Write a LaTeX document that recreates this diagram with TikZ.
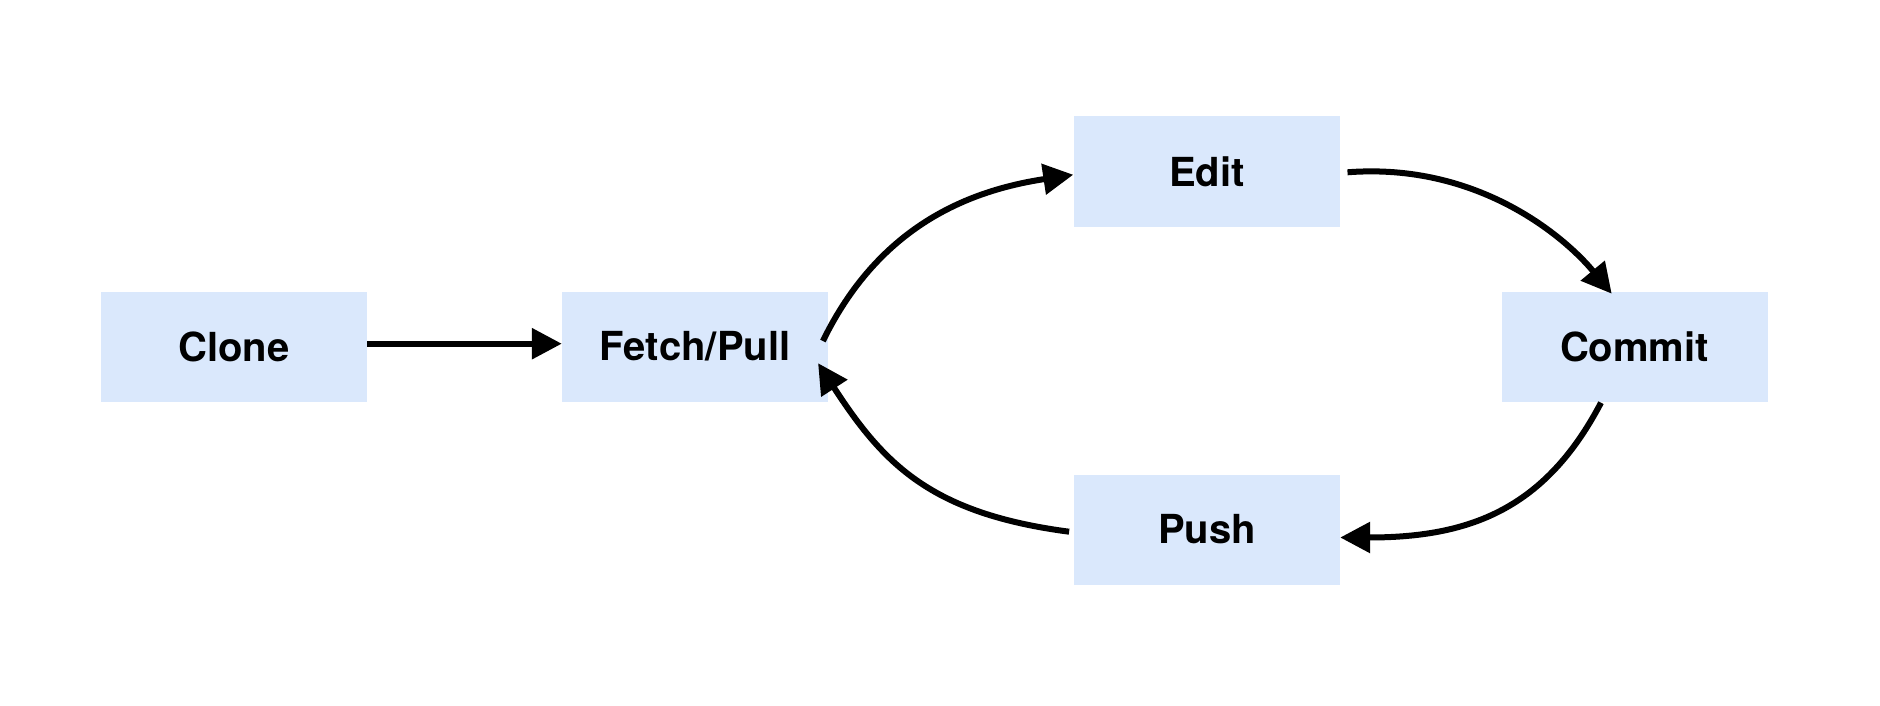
\documentclass[tikz,border=0pt]{standalone}
\usepackage{fontspec}
\setmainfont{TeX Gyre Heros}
\usetikzlibrary{arrows.meta,calc}
\definecolor{boxblue}{HTML}{DAE8FC}
\tikzset{
  stepbox/.style={fill=boxblue, draw=none, minimum width=266pt, minimum height=110pt,
    inner sep=0pt, font=\fontsize{40}{48}\selectfont\bfseries},
  arr/.style={line width=6pt, -{Triangle[length=30pt,width=30pt]}},
  % curve ends at the arrow base; the tip sticks out beyond it
  carr/.style={arr, shorten >=-30pt}
}
\begin{document}
\begin{tikzpicture}[x=1pt,y=-1pt]
\useasboundingbox (0,0) rectangle (1880,706);
\node[stepbox] (clone)  at (234,346.5)  {Clone};
\node[stepbox] (fetch)  at (695,346.5)  {Fetch/Pull};
\node[stepbox] (edit)   at (1207,171.5) {Edit};
\node[stepbox] (commit) at (1634.5,347) {Commit};
\node[stepbox] (push)   at (1207,529.5) {Push};

\draw[arr] ($(clone.east)+(0,-2.8)$) -- ($(fetch.west)+(0,-2.8)$);
\draw[carr] ($(fetch.east)+(-5.3,-5.5)$) .. controls (877.7,228.75) and (964.7,191.1) .. ($(edit.west)+(-30.2,7.7)$);
\draw[carr] ($(edit.east)+(7.3,0.8)$) .. controls (1476.9,162.3) and (1564.1,236) .. ($(commit.north)+(-41.85,-21.2)$);
\draw[carr] ($(commit.south)+(-33.5,0.5)$) .. controls (1545.3,509) and (1470,537.5) .. ($(push.east)+(30,8)$);
\draw[carr] ($(push.west)+(-4.7,2.2)$) .. controls (930.4,513.5) and (883.4,463.7) .. ($(fetch.east)+(6.2,41.8)$);
\end{tikzpicture}
\end{document}
